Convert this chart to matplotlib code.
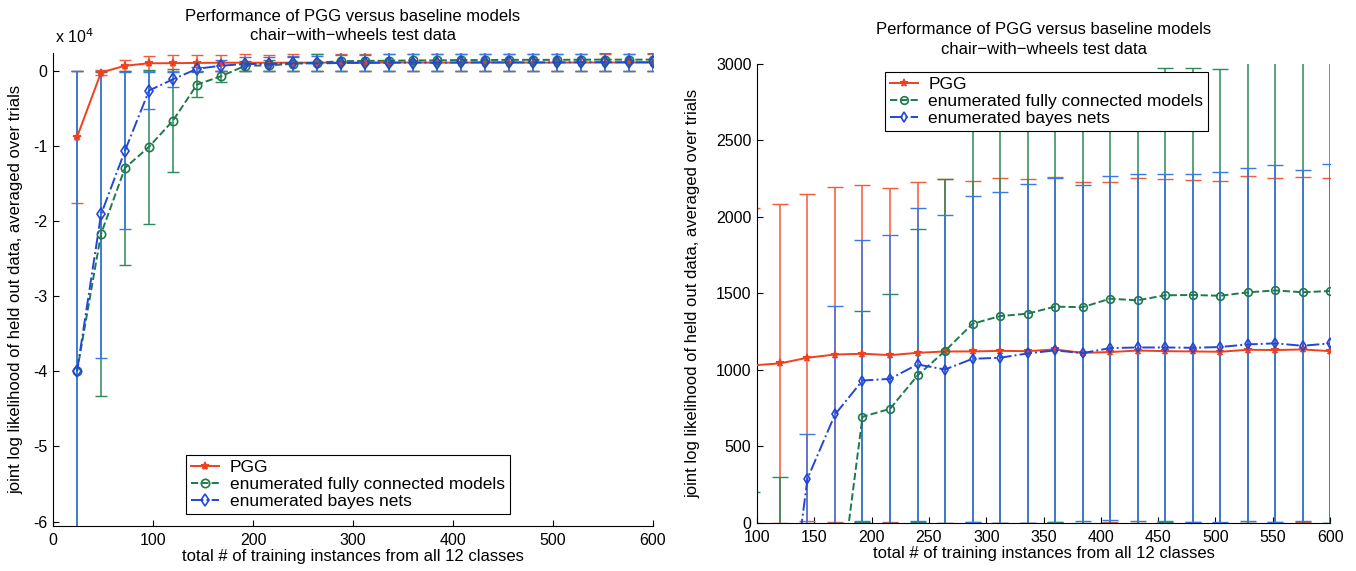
import matplotlib
matplotlib.use('Agg')
import matplotlib.pyplot as plt
from matplotlib.ticker import FuncFormatter

plt.rcParams['font.family'] = ['Liberation Sans', 'DejaVu Sans']

# training set sizes
n_train = [24, 48, 72, 96, 120, 144, 168, 192, 216, 240, 264, 288, 312,
           336, 360, 384, 408, 432, 456, 480, 504, 528, 552, 576, 600]

pgg_mean = [-8800, -200, 700, 1030, 1043, 1080, 1101, 1106, 1097, 1112, 1121,
            1121, 1125, 1123, 1134, 1112, 1117, 1127, 1123, 1121, 1119, 1132,
            1130, 1134, 1123]
pgg_err = [8800, 300, 760, 1030, 1040, 1070, 1096, 1100, 1090, 1117, 1124,
           1115, 1128, 1122, 1130, 1117, 1110, 1126, 1124, 1119, 1119, 1134,
           1125, 1126, 1132]

full_mean = [-40000, -21700, -12900, -10100, -6600, -1800, -700, 694, 746, 964,
             1124, 1302, 1352, 1368, 1414, 1410, 1466, 1455, 1488, 1490, 1485,
             1507, 1520, 1508, 1516]
full_err = [40000, 21600, 12900, 10300, 6900, 1700, 700, 690, 748, 956, 1123,
            1300, 1350, 1370, 1410, 1410, 1465, 1460, 1483, 1485, 1482, 1505,
            1520, 1510, 1515]

bayes_mean = [-40000, -19100, -10600, -2600, -1100, 290, 709, 931, 942, 1036,
              1003, 1073, 1080, 1108, 1128, 1110, 1143, 1147, 1147, 1145, 1150,
              1167, 1174, 1158, 1174]
bayes_err = [40000, 19100, 10500, 2500, 1000, 290, 709, 920, 940, 1021, 1007,
             1065, 1080, 1106, 1127, 1097, 1126, 1133, 1133, 1137, 1145, 1152,
             1165, 1148, 1171]

labels = ['PGG', 'enumerated fully connected models', 'enumerated bayes nets']
title = 'Performance of PGG versus baseline models\nchair\u2212with\u2212wheels test data'
xlab = 'total # of training instances from all 12 classes'
ylab = 'joint log likelihood of held out data, averaged over trials'

red, red_e = '#f0401e', '#f25a38'
green, green_e = '#1e7a4a', '#2a8a58'
blue, blue_e = '#2446d8', '#3a78e8'

fig = plt.figure(figsize=(13.56, 5.71), dpi=100)
ax1 = fig.add_axes([0.0391, 0.0788, 0.4425, 0.8284])
ax2 = fig.add_axes([0.5583, 0.0841, 0.4226, 0.8039])


def draw(ax, cap, ms, ypad):
    series = [(pgg_mean, pgg_err, red, red_e, '-', '*', True),
              (full_mean, full_err, green, green_e, '--', 'o', False),
              (bayes_mean, bayes_err, blue, blue_e, '-.', 'd', False)]
    handles = []
    for i, ((m, e, c, ce, ls, mk, filled), lab) in enumerate(zip(series, labels)):
        ax.errorbar(n_train, m, yerr=e, fmt='none', ecolor=ce, elinewidth=1.1,
                    capsize=cap, capthick=1.0, zorder=2 + 0.1 * i)
        h, = ax.plot(n_train, m, ls=ls, color=c, lw=1.4, marker=mk,
                     ms=ms, mfc=c if filled else 'none',
                     mec=c, mew=1.2, label=lab, zorder=3)
        handles.append(h)
    for s in ('top', 'right'):
        ax.spines[s].set_visible(False)
    ax.tick_params(direction='in', length=4, labelsize=11.5, width=0.8)
    ax.tick_params(axis='x', pad=5)
    ax.tick_params(axis='y', pad=4)
    ax.set_xlabel(xlab, fontsize=12, labelpad=1)
    ax.set_ylabel(ylab, fontsize=12, labelpad=ypad)
    return handles


def add_legend(ax, handles, anchor):
    leg = ax.legend(handles=handles, loc='upper left', bbox_to_anchor=anchor,
                    fontsize=12.5, handlelength=1.6, borderpad=0.3,
                    labelspacing=0.1, handletextpad=0.6, fancybox=False,
                    framealpha=1, edgecolor='black', borderaxespad=0)
    leg.get_frame().set_linewidth(0.8)


h1 = draw(ax1, 4.3, 6, 7)
ax1.set_xlim(0, 600)
ax1.set_ylim(-60600, 2400)
ax1.set_xticks(range(0, 601, 100))
ax1.set_yticks(range(-60000, 1, 10000))
ax1.yaxis.set_major_formatter(FuncFormatter(lambda v, p: f'{v / 1e4:g}'))
ax1.text(0.003, 1.015, 'x 10$^4$', transform=ax1.transAxes, fontsize=11.5,
         ha='left', va='bottom')
ax1.set_title(title, fontsize=12, linespacing=1.4, pad=9)
add_legend(ax1, h1, (0.222, 0.15))

h2 = draw(ax2, 6, 5.5, 11)
ax2.set_xlim(100, 600)
ax2.set_ylim(0, 3000)
ax2.set_xticks(range(100, 601, 50))
ax2.set_yticks(range(0, 3001, 500))
ax2.set_title(title, fontsize=12, linespacing=1.4, pad=7)
add_legend(ax2, h2, (0.223, 0.983))

fig.savefig('out.png', dpi=100)
